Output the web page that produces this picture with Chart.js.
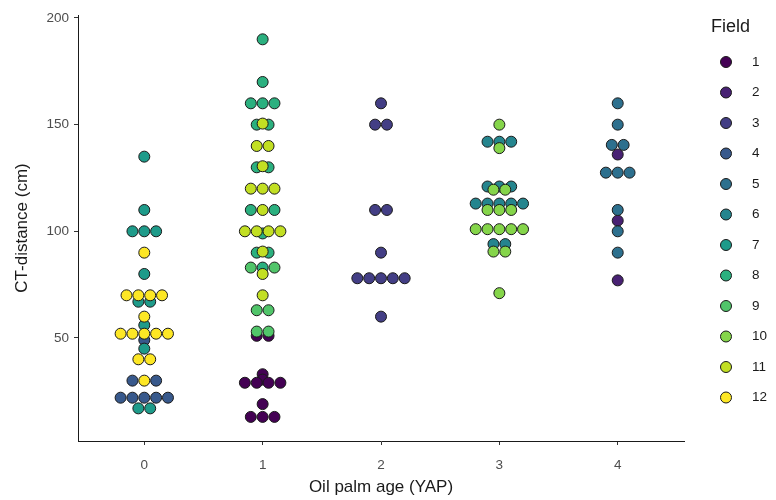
<!DOCTYPE html>
<html>
<head>
<meta charset="utf-8">
<script src="https://cdn.jsdelivr.net/npm/chart.js@4.4.1/dist/chart.umd.min.js"></script>
<style>
    html, body { margin: 0; padding: 0; background: #fff; }
    #wrap { width: 776px; height: 500px; }
</style>
</head>
<body>
<div id="wrap"><canvas id="chart"></canvas></div>
<script>
// categories (oil palm age, YAP) and y ticks
const ageLabels = ['0', '1', '2', '3', '4'];
const yTicks = [50, 100, 150, 200];
const fieldNames = ['1', '2', '3', '4', '5', '6', '7', '8', '9', '10', '11', '12'];
const fieldColors = ['#440154', '#482173', '#433E85', '#38598C', '#2D708E', '#25858E',
    '#1E9B8A', '#2BB07F', '#51C56A', '#85D54A', '#C2DF23', '#FDE725'];

// CT-distance (cm) per tree, and the field it belongs to
const age0Values = [135, 110, 100, 100, 100, 90, 80, 70, 70, 70, 70, 67, 67, 60, 56, 52, 52, 52, 52, 52,
    49, 45, 40, 40, 30, 30, 30, 22, 22, 22, 22, 22, 17, 17];
const age0Fields = [7, 7, 7, 7, 7, 12, 7, 12, 12, 12, 12, 7, 7, 12, 7, 12, 12, 12, 12, 12,
    4, 7, 12, 12, 4, 12, 4, 4, 4, 4, 4, 4, 7, 7];

const age1Values = [190, 170, 160, 160, 160, 150, 150, 150.5, 140, 140, 130, 130, 130.5, 120, 120, 120,
    110, 110, 110, 100, 100, 100, 100, 99, 90, 90, 90.5, 83, 83, 83, 80, 70, 63, 63, 53, 53, 51, 51,
    33, 30.5, 29, 29, 29, 29, 19, 13, 13, 13];
const age1Fields = [8, 8, 8, 8, 8, 8, 8, 11, 11, 11, 8, 8, 11, 11, 11, 11,
    8, 11, 8, 11, 11, 11, 11, 8, 8, 8, 11, 9, 8, 9, 11, 11, 9, 9, 9, 9, 1, 1,
    1, 1, 1, 1, 1, 1, 1, 1, 1, 1];

const age2Values = [160, 150, 150, 110, 110, 90, 78, 78, 78, 78, 78, 60];
const age2Fields = [3, 3, 3, 3, 3, 3, 3, 3, 3, 3, 3, 3];

const age3Values = [150, 142, 142, 142, 139, 121, 121, 121, 119.5, 119.5, 113, 113, 113, 113, 113,
    110, 110, 110, 101, 101, 101, 101, 101, 94, 94, 90.5, 90.5, 71];
const age3Fields = [10, 6, 6, 6, 10, 6, 6, 6, 10, 10, 6, 6, 6, 6, 6,
    10, 10, 10, 10, 10, 10, 10, 10, 6, 6, 10, 10, 10];

const age4Values = [160, 150, 140.5, 140.5, 136, 127.5, 127.5, 127.5, 110, 105, 100, 90, 77];
const age4Fields = [5, 5, 5, 5, 2, 5, 5, 5, 5, 2, 5, 5, 2];

const groups = [
    {age: 0, values: age0Values, fields: age0Fields},
    {age: 1, values: age1Values, fields: age1Fields},
    {age: 2, values: age2Values, fields: age2Fields},
    {age: 3, values: age3Values, fields: age3Fields},
    {age: 4, values: age4Values, fields: age4Fields},
];

// beeswarm: trees with the same value sit side by side, centred on their age
const dotStep = 0.1;
const pointsByField = fieldNames.map(() => []);
groups.forEach(group => {
    const rows = new Map();
    group.values.forEach((v, i) => {
        if (!rows.has(v)) {
            rows.set(v, []);
        }
        rows.get(v).push(i);
    });
    rows.forEach((indexes, v) => {
        indexes.forEach((i, k) => {
            const offset = (k - (indexes.length - 1) / 2) * dotStep;
            pointsByField[group.fields[i] - 1].push({x: group.age + offset, y: v});
        });
    });
});

const datasets = fieldNames.map((name, i) => ({
    label: name,
    data: pointsByField[i],
    backgroundColor: fieldColors[i],
    borderColor: '#1a1a1a',
    borderWidth: 1,
    pointRadius: 5.5,
    pointHoverRadius: 5.5,
    order: fieldNames.length - i
}));

const fontFamily = '"Liberation Sans", Arial, sans-serif';

const legendPlugin = {
    id: 'fieldLegend',
    afterDraw(chart) {
        const ctx = chart.ctx;
        ctx.save();
        ctx.fillStyle = '#1a1a1a';
        ctx.font = '18px ' + fontFamily;
        ctx.textBaseline = 'middle';
        ctx.textAlign = 'left';
        ctx.fillText('Field', 711, 27);
        ctx.font = '13.5px ' + fontFamily;
        fieldNames.forEach((name, i) => {
            const y = 62 + i * 30.5;
            ctx.beginPath();
            ctx.arc(726, y, 5.5, 0, Math.PI * 2);
            ctx.fillStyle = fieldColors[i];
            ctx.fill();
            ctx.lineWidth = 1;
            ctx.strokeStyle = '#1a1a1a';
            ctx.stroke();
            ctx.fillStyle = '#1a1a1a';
            ctx.fillText(name, 752, y);
        });
        ctx.restore();
    }
};

new Chart(document.getElementById('chart'), {
    type: 'scatter',
    data: {datasets: datasets},
    plugins: [legendPlugin],
    options: {
        responsive: true,
        maintainAspectRatio: false,
        animation: false,
        layout: {padding: {left: 0, right: 92, top: 15, bottom: 0}},
        plugins: {
            legend: {display: false},
            tooltip: {enabled: false}
        },
        scales: {
            x: {
                type: 'linear',
                min: -0.56,
                max: 4.56,
                afterBuildTicks: (scale) => {
                    scale.ticks = ageLabels.map((_, i) => ({value: i}));
                },
                afterFit: (scale) => {
                    scale.height = 59;
                },
                ticks: {
                    callback: (value) => ageLabels[value],
                    color: '#4d4d4d',
                    font: {family: fontFamily, size: 13.5},
                    padding: 12
                },
                grid: {display: true, drawOnChartArea: false, drawTicks: true, tickLength: 4, color: '#333'},
                border: {display: true, color: '#1a1a1a', width: 1},
                title: {
                    display: true,
                    text: 'Oil palm age (YAP)',
                    color: '#1a1a1a',
                    font: {family: fontFamily, size: 17},
                    padding: {top: 0, bottom: 2}
                }
            },
            y: {
                min: 1.7,
                max: 201.4,
                afterBuildTicks: (scale) => {
                    scale.ticks = yTicks.map(v => ({value: v}));
                },
                afterFit: (scale) => {
                    scale.width = 78;
                },
                ticks: {
                    color: '#4d4d4d',
                    font: {family: fontFamily, size: 13.5},
                    padding: 5
                },
                grid: {display: true, drawOnChartArea: false, drawTicks: true, tickLength: 4, color: '#333'},
                border: {display: true, color: '#1a1a1a', width: 1},
                title: {
                    display: true,
                    text: 'CT-distance (cm)',
                    color: '#1a1a1a',
                    font: {family: fontFamily, size: 17},
                    padding: {top: 12, bottom: 0}
                }
            }
        }
    }
});
</script>
</body>
</html>
